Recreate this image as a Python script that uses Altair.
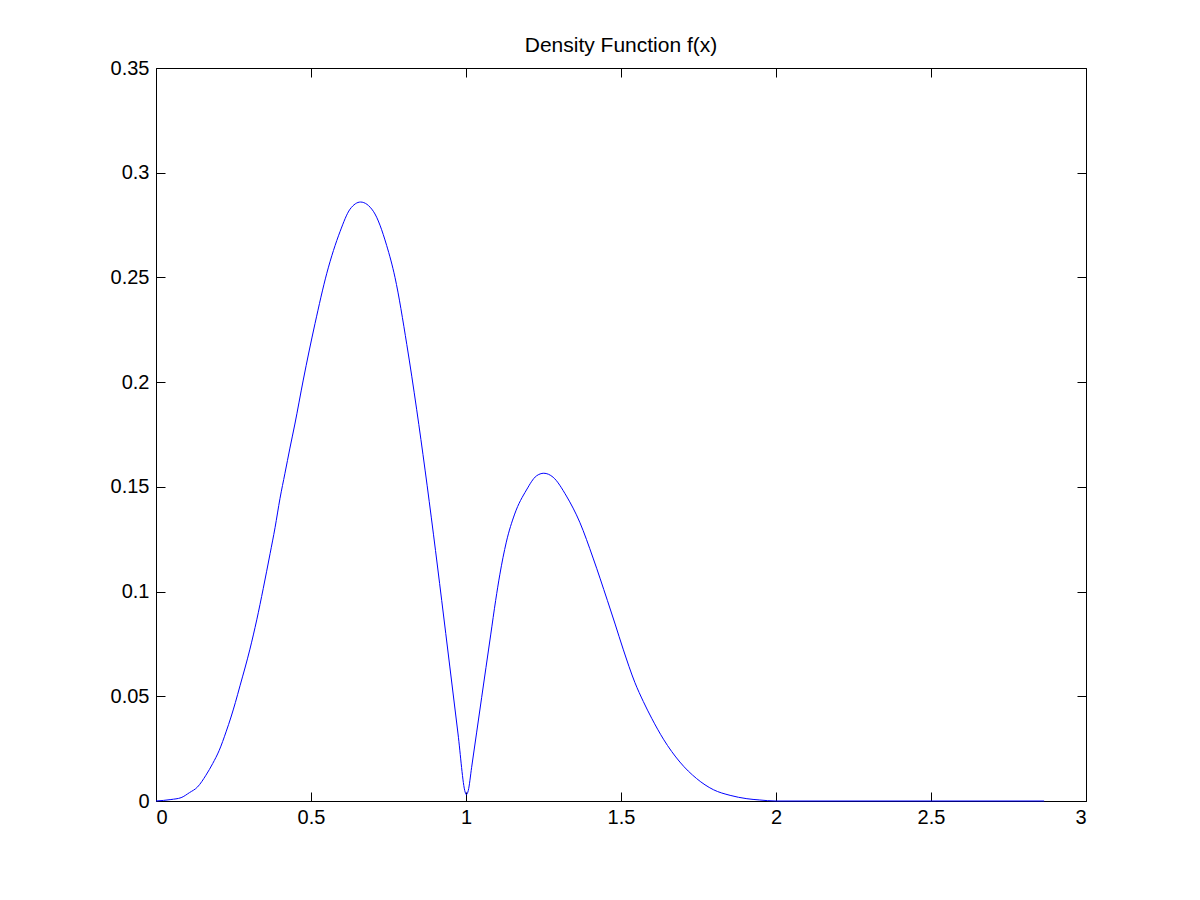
import altair as alt
import pandas as pd

# Curve samples
x_vals = [0.0, 0.048, 0.081, 0.108, 0.134, 0.161, 0.183, 0.204, 0.226, 0.242,
          0.256, 0.271, 0.303, 0.325, 0.346, 0.368, 0.384, 0.400, 0.416, 0.432,
          0.448, 0.475, 0.513, 0.551, 0.594, 0.626, 0.660, 0.701, 0.744,
          0.771, 0.809, 0.841, 0.868, 0.895, 0.9216, 0.9479, 0.9743, 0.9972,
          1.001, 1.0075, 1.018, 1.0345, 1.0506, 1.0645, 1.0796, 1.0957,
          1.109, 1.130, 1.157, 1.195, 1.227, 1.251, 1.281, 1.324, 1.367, 1.410,
          1.456, 1.481, 1.507, 1.545, 1.572, 1.599, 1.637, 1.690, 1.744, 1.798,
          1.852, 1.906, 1.946, 2.0, 2.5, 2.865]
y_vals = [0.0, 0.0007, 0.0016, 0.004, 0.0067, 0.0123, 0.0179, 0.0242, 0.033, 0.0401,
          0.0470, 0.0550, 0.0725, 0.0865, 0.1015, 0.1181, 0.1305, 0.1445, 0.1565, 0.1685,
          0.1800, 0.2010, 0.228, 0.252, 0.272, 0.2826, 0.286, 0.2816, 0.2653,
          0.25, 0.218, 0.1868, 0.158, 0.1274, 0.0958, 0.064, 0.032, 0.0043,
          0.003, 0.0051, 0.0159, 0.0329, 0.0495, 0.0638, 0.0793, 0.0958,
          0.108, 0.1236, 0.137, 0.1485, 0.1552, 0.1565, 0.1546, 0.1456, 0.1331, 0.116,
          0.0958, 0.0845, 0.0725, 0.0565, 0.0475, 0.0395, 0.0295, 0.0186, 0.0107, 0.0054,
          0.0027, 0.0011, 0.0005, 0.0, 0.0, 0.0]

x_ticks = [0, 0.5, 1, 1.5, 2, 2.5, 3]
y_ticks = [0, 0.05, 0.1, 0.15, 0.2, 0.25, 0.3, 0.35]

df = pd.DataFrame({"x": x_vals, "y": y_vals})

FONT = "Liberation Sans"
FS = 20


def make_axis(orient, labels, pad, values):
    return alt.Axis(orient=orient, values=values, labels=labels, format="~g",
                    domain=False, grid=False, ticks=True, tickSize=9,
                    tickColor="black", tickWidth=1, offset=-9,
                    labelPadding=pad, labelFont=FONT, labelFontSize=FS,
                    labelColor="black", title=None)


xs = alt.Scale(domain=[0, 3], nice=False, zero=False)
ys = alt.Scale(domain=[0, 0.35], nice=False, zero=False)

main = alt.Chart(df).mark_line(color="#0000ff", strokeWidth=1, interpolate="monotone").encode(
    x=alt.X("x:Q", scale=xs, axis=make_axis("bottom", True, 6, x_ticks)),
    y=alt.Y("y:Q", scale=ys, axis=make_axis("left", True, 7, y_ticks)),
)
mirror = alt.Chart(df).mark_line(opacity=0).encode(
    x=alt.X("x:Q", scale=xs, axis=make_axis("top", False, 6, x_ticks)),
    y=alt.Y("y:Q", scale=ys, axis=make_axis("right", False, 7, y_ticks)),
)

chart = alt.layer(main, mirror).resolve_axis(x="independent", y="independent").properties(
    width=930, height=733,
    background="white",
    title=alt.TitleParams("Density Function f(x)", font=FONT, fontSize=21,
                          fontWeight="normal", color="black", anchor="middle", offset=2),
    autosize=alt.AutoSizeParams(type="none"),
    padding={"left": 148, "top": 60, "right": 100, "bottom": 90},
).configure_view(stroke="black", strokeWidth=1)

chart.save("out.html", embed_options={"renderer": "svg", "actions": False})
